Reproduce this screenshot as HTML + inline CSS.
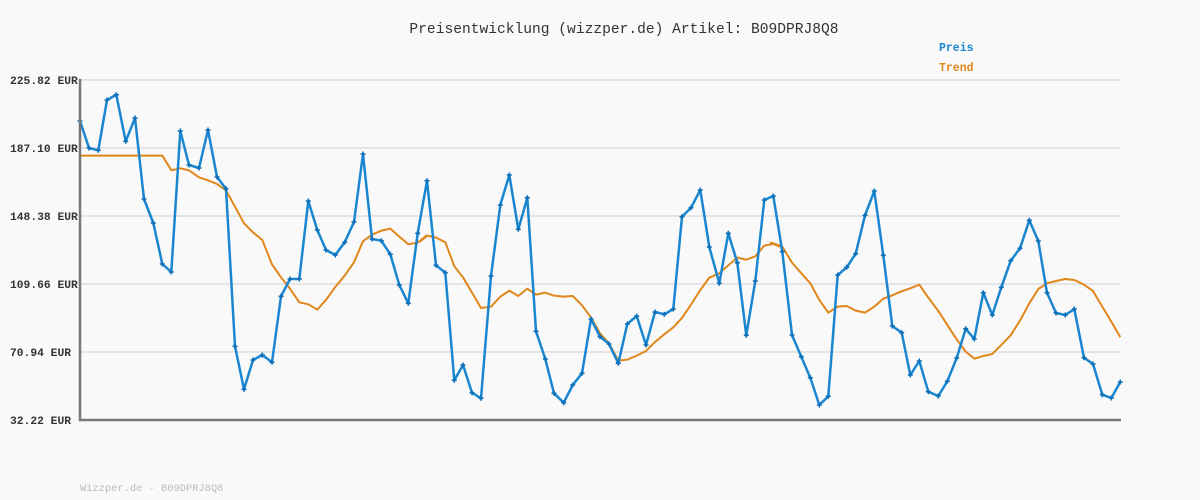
<!DOCTYPE html>
<html><head><meta charset="utf-8"><style>
html,body{margin:0;padding:0;background:#f9f9f9;width:1200px;height:500px;overflow:hidden}
text{font-family:"Liberation Mono",monospace}
</style></head><body>
<svg width="1200" height="500" xmlns="http://www.w3.org/2000/svg">
<rect width="1200" height="500" fill="#f9f9f9"/>
<text x="624" y="33" text-anchor="middle" font-size="14.6" fill="#333">Preisentwicklung (wizzper.de) Artikel: B09DPRJ8Q8</text>
<text x="939" y="51" font-size="11.5" font-weight="bold" fill="#1a86d0">Preis</text>
<text x="939" y="71" font-size="11.5" font-weight="bold" fill="#e0861a">Trend</text>
<g stroke="#e4e4e4" stroke-width="2">
<line x1="80" y1="80" x2="1120" y2="80"/><line x1="80" y1="148" x2="1120" y2="148"/>
<line x1="80" y1="216" x2="1120" y2="216"/><line x1="80" y1="284" x2="1120" y2="284"/>
<line x1="80" y1="352" x2="1120" y2="352"/>
</g>
<g font-size="11.3" font-weight="bold" fill="#333">
<text x="10" y="84">225.82 EUR</text><text x="10" y="152">187.10 EUR</text>
<text x="10" y="220">148.38 EUR</text><text x="10" y="288">109.66 EUR</text>
<text x="10" y="356">70.94 EUR</text><text x="10" y="424">32.22 EUR</text>
</g>
<text x="80" y="491" font-size="10.4" fill="#bbb">Wizzper.de - B09DPRJ8Q8</text>
<g fill="none" stroke="#e0861a" stroke-width="2" stroke-linejoin="round">
<polyline transform="translate(70,70) scale(0.3333)" vector-effect="non-scaling-stroke" points="30,257 277,257 304,301 331,295 357,301 387,322 414,331 441,342 468,361 495,410 522,460 549,487 577,510 606,583 633,622 660,656 688,697 715,703 742,719 768,690 796,651 824,617 852,577 879,514 906,494 934,482 961,476 988,500 1015,523 1043,518 1071,496"/>
<polyline transform="translate(420,70) scale(0.3333)" vector-effect="non-scaling-stroke" points="0,515 22,497 48,503 76,517 103,589 129,622 156,668 183,714 213,710 241,680 268,662 295,678 322,656 348,674 376,668 402,677 431,680 458,678 486,706 513,742 540,790 567,820 595,872 622,869 650,857 678,843 705,816 733,793 760,772 786,744 813,704 841,660 868,623 898,610 925,586 952,563 979,569 1006,559 1033,527 1060,522 1080,530"/>
<polyline transform="translate(770,70) scale(0.3333)" vector-effect="non-scaling-stroke" points="0,518 10,520 37,530 66,578 94,610 121,640 148,690 175,728 203,710 230,708 257,722 285,728 313,710 340,686 367,676 395,664 421,655 448,644 475,683 505,723 532,765 560,808 587,845 613,866 640,858 667,852 694,825 722,796 750,752 778,700 805,657 831,640 858,633 886,627 913,630 942,644 969,663 997,710 1024,755 1051,802"/>
</g>
<g fill="none" stroke="#1a86d0" stroke-width="2.5" stroke-linejoin="round" marker-mid="url(#m)" marker-start="url(#m)" marker-end="url(#m)">
<defs><marker id="m" viewBox="-3 -3 6 6" markerWidth="6" markerHeight="6" markerUnits="userSpaceOnUse"><path d="M-2.5 0H2.5M0 -2.5V2.5" stroke="#0b6fb8" stroke-width="1.6"/></marker></defs>
<polyline points="80,121 89,148 98.3,150.3 107,100 116.3,94.7 125.7,141.3 135,118 144,199 153.3,223 162.3,264 171.3,272 180.3,131 189,165 199,168 208,130 217,177 226,188.7 235,346.3 244,389.3 253,360 262.3,355 272,362.3 281,296.3 290,279 299.3,279 308.3,201 317.3,230 326,250 335.3,255 344.7,242.3 354,222 363,154 372,239 381.3,240.7 390.3,254.3 399.3,285 408.3,303.3 417.7,233.3 427,180.7 436,265.3 445.3,272.7 454.3,380.3 463,365 472,392.7 481,398.3 491,276 500.3,205 509.3,175 518.3,229.3 527.3,197.7 536,331.3 545.3,359 554,393.3 563.7,402.7 572.7,385 582,373.3 591,319 600,336.7 609,344 618.3,363.3 627.3,324 636.7,316 646,345 655,312 664.3,314.3 673.3,309 682,216.7 691,207.7 700.3,190 709.3,247 719.3,283.3 728.3,233.3 737.3,262.7 746.3,335.3 755.3,281 764.3,200 773.3,196 782.3,251.7 792,335 801.3,356.7 810.3,377.7 819.3,405 828.3,396.3 837.7,275 846.7,267.3 855.7,253.7 865,215.3 874.3,191 883.3,255.3 892.3,326 901.7,332.7 910.3,375 919.3,361 928.3,391.7 938.3,396 947.3,381.3 956.7,358 965.7,328.7 974.3,339 983.3,292.7 992.3,315 1001.3,287.3 1010.7,260.7 1020,248.3 1029.3,220.3 1038.3,241 1047,292.7 1056,313 1065.3,315 1074.3,309 1084,357.7 1093,364 1102.3,394.7 1111.3,398 1120.3,382"/>
</g>
<g stroke="#777" stroke-width="2.5">
<line x1="80" y1="79" x2="80" y2="421"/><line x1="79" y1="420" x2="1121" y2="420"/>
</g>
</svg>
</body></html>
